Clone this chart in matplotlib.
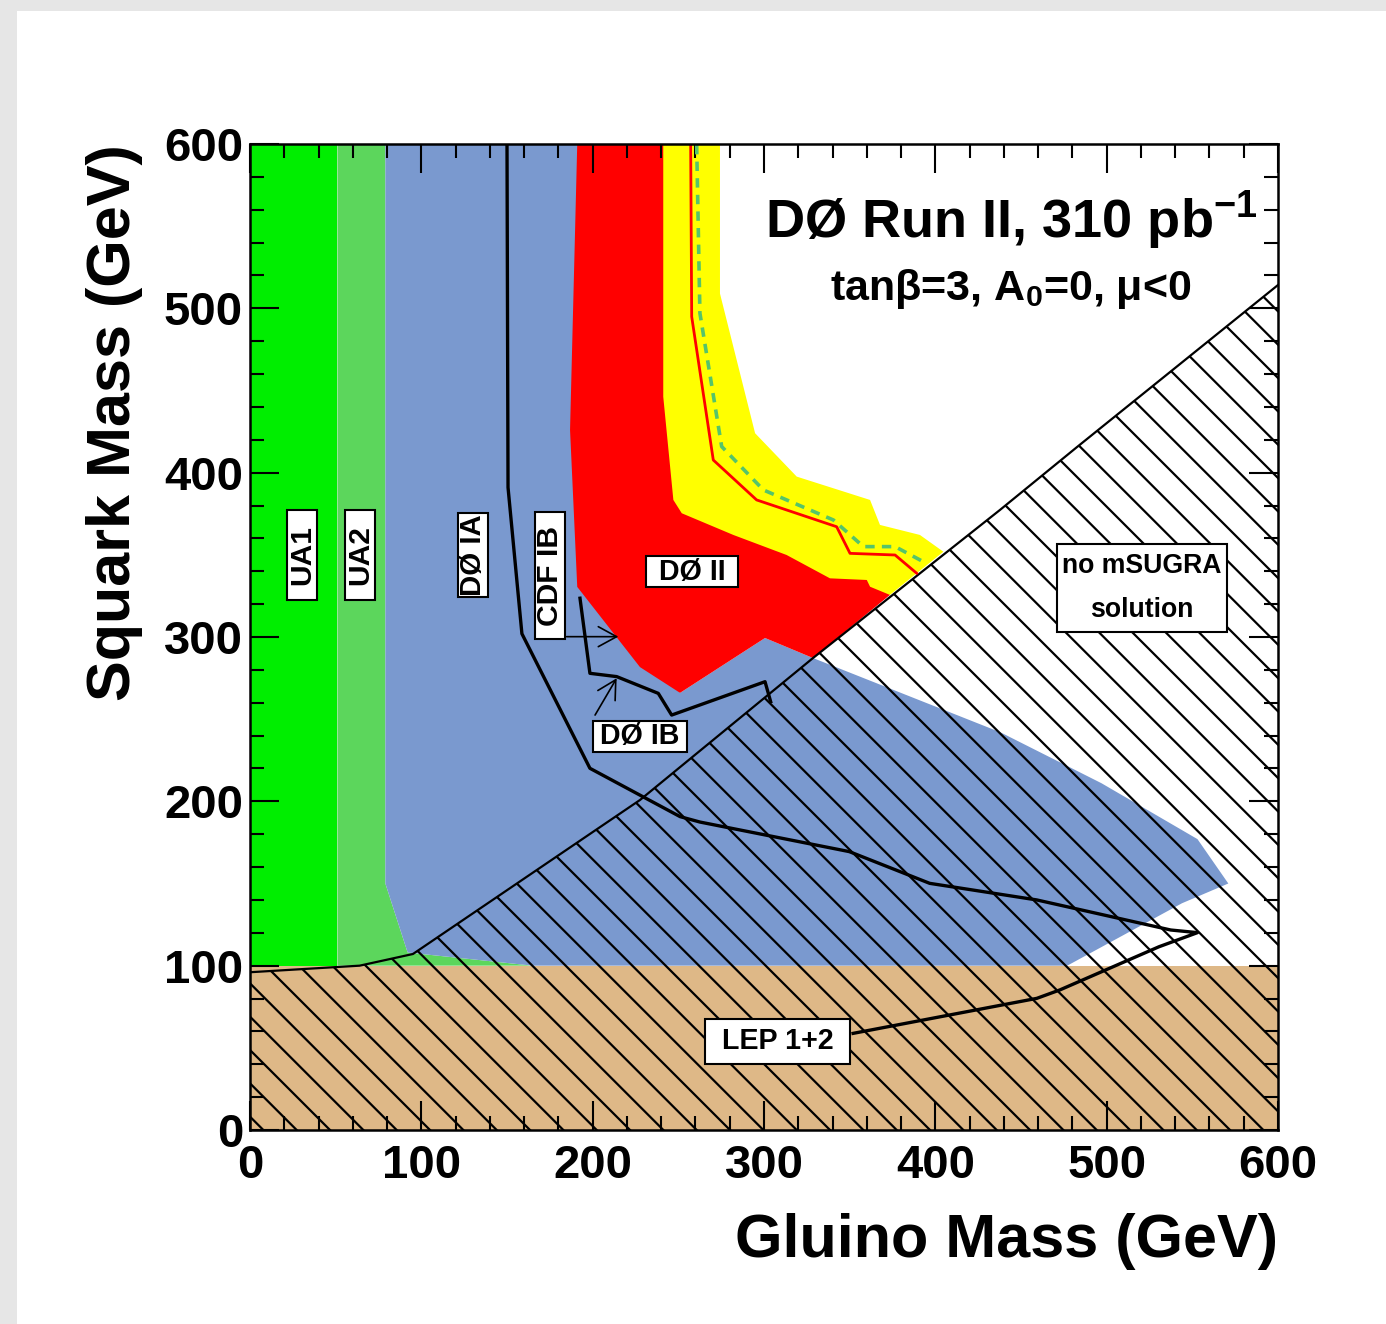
import matplotlib
matplotlib.use("Agg")
import matplotlib.pyplot as plt
from matplotlib.patches import Rectangle
from matplotlib.path import Path
from matplotlib.ticker import MultipleLocator

# Excluded regions in the (gluino mass, squark mass) plane, GeV
ua1_x = [0, 51, 51, 0]
ua1_y = [100, 100, 600, 600]

ua2_x = [51, 51, 79, 79, 92, 165]
ua2_y = [100, 600, 600, 150, 108, 100]

d0ia_x = [79, 200, 200, 251, 300.6, 328.6, 438, 497, 553, 571, 544, 477, 165, 92, 79]
d0ia_y = [600, 600, 330, 266, 299.4, 287.2, 242, 211, 177, 150, 138, 100, 100, 108, 150]

# DØ Run II observed exclusion
d0ii_x = [191, 241.2, 241.2, 247.1, 252, 282.1, 313.2, 338.5, 360, 361.9, 373.5,
          328.6, 300.6, 251, 227.6, 191, 186.8, 189.7]
d0ii_y = [600, 600, 446.2, 383.4, 375.3, 362.1, 349.9, 335.7, 334.7, 330.6, 325.6,
          287.2, 299.4, 266, 281.7, 330.5, 426, 546]

# expected-limit band
band_x = [230, 274.3, 274.3, 294.8, 319.1, 361.9, 367.7, 391, 404.7, 373.5, 230]
band_y = [600, 600, 509, 424, 397.6, 383.4, 368.2, 362.1, 351.9, 325.6, 330]

obs_x = [257.2, 257.8, 270.4, 295.7, 342.4, 350.2, 376.5, 389.1]
obs_y = [599.4, 494.9, 407.7, 383.4, 367.1, 350.9, 349.9, 338.8]

exp_x = [260.7, 262.6, 275.3, 299.6, 340.5, 358, 376.5, 393]
exp_y = [599.4, 497, 415.9, 389.5, 371.2, 355, 355, 345.8]

# theoretically forbidden region (lower edge of allowed mSUGRA space)
nosol_x = [0, 64, 95.1, 227.6, 328.6, 437.7, 482.7, 600]
nosol_y = [96, 100, 107.1, 200.8, 287.2, 377.3, 415.6, 514.2]

lep_limit = 100

# older Tevatron / LEP contours
ia_line_x = [150, 150.6, 158.7, 198.4, 251, 262.6, 349.8, 396.7, 459.2, 537.4, 553,
             530.5, 472.6, 459.2, 352]
ia_line_y = [600, 391, 302, 220.1, 190.7, 187.4, 169.4, 150.1, 140, 121.7, 120.1,
             111.5, 85.2, 80.1, 58.8]

ib_line_x = [192.6, 198.4, 214, 238.3, 246.1, 300.6, 303.9]
ib_line_y = [323.6, 277.9, 275.9, 265.7, 252.5, 272.8, 260.6]

plt.rcParams["font.family"] = ["Liberation Sans", "DejaVu Sans"]
plt.rcParams["font.weight"] = "bold"
plt.rcParams["axes.labelweight"] = "bold"
plt.rcParams["mathtext.fontset"] = "custom"
plt.rcParams["mathtext.rm"] = "Liberation Sans:bold"
plt.rcParams["mathtext.bf"] = "Liberation Sans:bold"
plt.rcParams["hatch.linewidth"] = 0.8


def framed(padx, pady):
    # rectangular label frame with separate horizontal / vertical padding
    def box(x0, y0, width, height, mutation_size):
        dx = padx * mutation_size
        dy = pady * mutation_size
        x0, y0 = x0 - dx, y0 - dy
        x1, y1 = x0 + width + 2 * dx, y0 + height + 2 * dy
        return Path([(x0, y0), (x1, y0), (x1, y1), (x0, y1), (x0, y0)], closed=True)
    return box


fig = plt.figure(figsize=(6.93, 6.62), dpi=200)
fig.patch.set_facecolor("#e6e6e6")
fig.add_artist(Rectangle((17 / 1386, 0), 1, 1 - 11 / 1324, transform=fig.transFigure,
                         fc="white", ec="none", zorder=-1))

ax = fig.add_axes([250 / 1386, 1 - 1130 / 1324, 1028 / 1386, 986 / 1324])

ax.fill(ua1_x, ua1_y, color="#00ee00", lw=0, zorder=1)
ax.fill(ua2_x, ua2_y, color="#5cd65c", lw=0, zorder=1)
ax.fill(d0ia_x, d0ia_y, color="#7a99cf", lw=0, zorder=1)
ax.fill(band_x, band_y, color="#ffff00", lw=0, zorder=1.1)
ax.fill(d0ii_x, d0ii_y, color="#ff0000", lw=0, zorder=1.2)
ax.fill_between([0, 600], 0, lep_limit, color="#deb887", lw=0, zorder=1.3)

ax.fill(nosol_x + [600, 0], nosol_y + [0, 0], fc="none", ec="black", lw=0,
        hatch="\\\\", zorder=1.5)
ax.plot(nosol_x, nosol_y, color="black", lw=0.8, zorder=2)

ax.plot(obs_x, obs_y, color="#ff0000", lw=1.0, zorder=2)
ax.plot(exp_x, exp_y, color="#55c46a", lw=1.3, dashes=(2.6, 2.0), zorder=2)

ax.plot(ia_line_x, ia_line_y, color="black", lw=1.2, zorder=2.1)
ax.plot(ib_line_x, ib_line_y, color="black", lw=1.2, zorder=2.1)

arrow = dict(arrowstyle="->,head_length=0.55,head_width=0.3", lw=0.6, color="black",
             shrinkA=0, shrinkB=0, mutation_scale=12)
ax.annotate("", xy=(215, 300.2), xytext=(184.8, 300.2), arrowprops=arrow, zorder=2.2)
ax.annotate("", xy=(214, 274.9), xytext=(201.4, 252.5), arrowprops=arrow, zorder=2.2)


def label(x, y, text, padx, pady, rot=0, size=10.3, **kw):
    ax.text(x, y, text, rotation=rot, ha="center", va="center", fontsize=size,
            zorder=3, bbox=dict(boxstyle=framed(padx, pady), fc="white", ec="black",
                                lw=0.75), **kw)


label(30.4, 350, "UA1", 0.5, 0.03, rot=90, size=10.8)
label(64.2, 350, "UA2", 0.5, 0.03, rot=90, size=10.8)
label(130, 350, "DØ IA", 0.03, 0.03, rot=90, size=10.6)
label(175, 337.4, "CDF IB", 0.45, 0.03, rot=90, size=10.8)
label(258, 339.6, "DØ II", 0.45, 0.05)
label(227.6, 239.5, "DØ IB", 0.27, 0.05)
label(308, 54, "LEP 1+2", 0.58, 0.3)
label(520.4, 329.8, "no mSUGRA\nsolution", 0.2, 0.35, size=9.6, linespacing=1.9)

ax.text(444.2, 542.8, r"DØ Run II, 310 pb$^{\mathbf{-1}}$", fontsize=19.5,
        ha="center", va="baseline", zorder=3)
ax.text(444.2, 505, r"tanβ=3, A$_{\mathbf{0}}$=0, μ<0", fontsize=15.5,
        ha="center", va="baseline", zorder=3)

ax.set_xlim(0, 600)
ax.set_ylim(0, 600)
for axis in (ax.xaxis, ax.yaxis):
    axis.set_major_locator(MultipleLocator(100))
    axis.set_minor_locator(MultipleLocator(20))
ax.tick_params(which="both", direction="in", top=True, right=True, width=0.75)
ax.tick_params(which="major", length=10.5)
ax.tick_params(which="minor", length=5)
ax.tick_params(axis="x", labelsize=17, pad=5.2)
ax.tick_params(axis="y", labelsize=17, pad=2.5)
for sp in ax.spines.values():
    sp.set_linewidth(0.9)

ax.set_xlabel("Gluino Mass (GeV)", fontsize=22, ha="right", va="top")
ax.xaxis.set_label_coords(1.0, -0.084)
ax.set_ylabel("Squark Mass (GeV)", fontsize=22, ha="right", va="baseline")
ax.yaxis.set_label_coords(-0.117, 1.0)

fig.savefig("out.png", dpi=200, facecolor=fig.get_facecolor())
